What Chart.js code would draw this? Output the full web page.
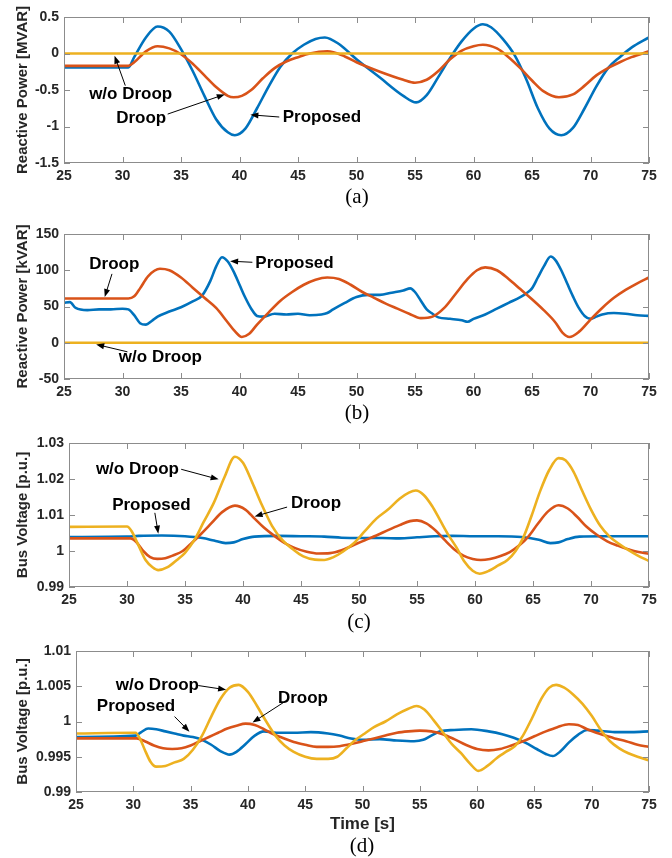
<!DOCTYPE html>
<html>
<head>
<meta charset="utf-8">
<script src="https://cdn.jsdelivr.net/npm/chart.js@4.4.1/dist/chart.umd.min.js"></script>
<style>
  body { margin: 0; background: #fff; width: 672px; height: 858px; position: relative; overflow: hidden; }
  canvas { position: absolute; left: 0; }
  .cap { position: absolute; font-family: "Liberation Serif", "Times New Roman", serif; font-size: 21px; color: #000; transform: translate(-50%, -50%); }
</style>
</head>
<body>
<canvas id="chartA"></canvas>
<canvas id="chartB"></canvas>
<canvas id="chartC"></canvas>
<canvas id="chartD"></canvas>
<div class="cap" style="left:357px; top:196px">(a)</div>
<div class="cap" style="left:357px; top:412px">(b)</div>
<div class="cap" style="left:359px; top:621px">(c)</div>
<div class="cap" style="left:362px; top:845px">(d)</div>

<script>
// ---- ticks ----
const xTicks = [25, 30, 35, 40, 45, 50, 55, 60, 65, 70, 75];
const aTicks = [-1.5, -1, -0.5, 0, 0.5];
const bTicks = [-50, 0, 50, 100, 150];
const cTicks = [0.99, 1, 1.01, 1.02, 1.03];
const dTicks = [0.99, 0.995, 1, 1.005, 1.01];

// ---- (a) reactive power [MVAR] ----
const aPropT = [25, 30.5, 31, 32, 33, 34, 35, 36, 37, 38, 39, 39.6, 40.5, 41.5, 42.5, 43.5, 44.5, 45.5, 46.5, 47.3, 48.5, 50, 52, 54, 55.1, 56, 57, 58, 59, 60, 60.8, 61.5, 62.5, 63.5, 64.5, 65.5, 66.5, 67.5, 68.5, 69.5, 70.5, 71.5, 72.5, 73.5, 75];
const aPropV = [-0.19, -0.19, -0.05, 0.22, 0.37, 0.3, 0.06, -0.24, -0.58, -0.9, -1.08, -1.12, -1.03, -0.75, -0.45, -0.18, 0, 0.12, 0.2, 0.22, 0.13, -0.08, -0.33, -0.58, -0.67, -0.57, -0.32, -0.06, 0.17, 0.34, 0.4, 0.36, 0.2, -0.02, -0.35, -0.75, -1.03, -1.12, -1.02, -0.75, -0.45, -0.2, -0.05, 0.08, 0.22];
const aDroopT = [25, 30.5, 31, 32, 33, 34, 35, 36, 37, 38, 39, 39.5, 40.2, 41, 42, 43, 44, 45, 46, 47.5, 49, 50, 52, 54, 55, 56, 57, 58, 59, 60, 60.8, 62, 63, 64, 65, 66, 67.3, 68.5, 69.5, 70.5, 71.5, 72.5, 73.5, 75];
const aDroopV = [-0.17, -0.17, -0.12, 0.03, 0.1, 0.07, -0.01, -0.14, -0.3, -0.46, -0.58, -0.6, -0.58, -0.5, -0.34, -0.2, -0.11, -0.05, 0, 0.03, -0.04, -0.12, -0.25, -0.36, -0.4, -0.36, -0.24, -0.08, 0.04, 0.1, 0.12, 0.07, -0.05, -0.2, -0.37, -0.52, -0.6, -0.56, -0.44, -0.3, -0.2, -0.12, -0.05, 0.03];
const aNoDroopT = [25, 75];
const aNoDroopV = [0, 0];

// ---- (b) reactive power [kVAR] ----
const bPropT = [25, 25.5, 26, 27, 28, 29, 30, 30.5, 31, 31.5, 32, 32.5, 33, 34, 35, 36, 36.8, 37.5, 38, 38.5, 39, 39.5, 40, 40.5, 41, 41.5, 42, 43, 44, 45, 46, 47, 47.5, 48, 49, 50, 51, 52, 53, 54, 54.6, 55, 55.5, 56, 56.5, 57, 58, 59, 59.5, 60, 61, 62, 63, 64, 64.5, 65, 65.5, 66, 66.6, 67, 67.5, 68, 68.5, 69, 69.5, 70, 70.5, 71, 72, 73, 74, 75];
const bPropV = [55, 56, 48, 45, 46, 46, 47, 46, 38, 27, 25, 30, 36, 43, 49, 57, 65, 85, 105, 118, 112, 98, 80, 62, 47, 37, 36, 40, 39, 40, 38, 39, 41, 46, 55, 63, 66, 66, 69, 72, 75, 70, 58, 46, 40, 35, 33, 31, 29, 33, 39, 47, 55, 63, 68, 75, 90, 105, 119, 114, 100, 82, 64, 48, 37, 33, 36, 39, 41, 40, 38, 37];
const bDroopT = [25, 30.5, 31, 31.5, 32.2, 33.2, 34, 35, 36, 37, 38, 39, 39.6, 40.2, 40.8, 41.5, 42.5, 43.5, 44.5, 45.5, 46.5, 47.5, 48.5, 49.5, 50.5, 51.5, 52.5, 53.5, 54.5, 55.5, 56.5, 57.5, 58.5, 59.5, 60.3, 61, 62, 63, 64, 65, 66, 67, 67.6, 68.2, 69, 70, 71, 72, 73, 74, 75];
const bDroopV = [61, 61, 64, 75, 92, 102, 100, 90, 76, 62, 48, 28, 16, 8, 12, 25, 42, 58, 70, 80, 87, 90, 88, 80, 70, 62, 54, 47, 40, 34, 36, 48, 68, 88, 100, 104, 100, 88, 74, 60, 45, 28, 14, 8, 15, 32, 48, 62, 73, 82, 90];
const bNoDroopT = [25, 75];
const bNoDroopV = [0, 0];

// ---- (c) bus voltage [p.u.] ----
const cPropT = [25, 30, 31, 33, 35, 36.5, 37.5, 38.5, 39.2, 40, 41, 43, 45, 47, 48.5, 50, 52, 53.5, 55, 56.5, 58, 60, 62, 64, 65.5, 66.5, 67.2, 68, 69, 71, 73, 75];
const cPropV = [1.0039, 1.004, 1.0042, 1.0043, 1.0041, 1.0036, 1.0029, 1.0022, 1.0024, 1.0033, 1.004, 1.0042, 1.0041, 1.004, 1.0037, 1.0036, 1.0036, 1.0035, 1.0038, 1.0041, 1.0042, 1.0041, 1.0041, 1.0039, 1.0031, 1.0022, 1.0024, 1.0033, 1.004, 1.0041, 1.0041, 1.0041];
const cDroopT = [25, 30.3, 30.8, 31.4, 32, 32.6, 33.3, 34, 34.8, 35.6, 36.4, 37.3, 38.2, 39.3, 40.2, 41, 41.8, 42.7, 43.6, 44.5, 45.5, 46.5, 47.5, 48.5, 49.5, 50.5, 51.5, 52.5, 53.5, 54.4, 55, 55.8, 56.6, 57.4, 58.2, 59, 59.8, 60.5, 61.3, 62.2, 63, 63.8, 64.6, 65.4, 66.3, 67.2, 68, 68.8, 69.6, 70.5, 71.4, 72.3, 73.2, 74.1, 75];
const cDroopV = [1.0035, 1.0035, 1.0025, 1.0, 0.9983, 0.9978, 0.998, 0.9988, 1.0, 1.0023, 1.0048, 1.0078, 1.0108, 1.0126, 1.0115, 1.009, 1.0065, 1.0042, 1.0022, 1.0008, 0.9998, 0.9993, 0.9994, 1.0002, 1.0016, 1.003, 1.0043, 1.0058, 1.0072, 1.0083, 1.0085, 1.0077, 1.0057, 1.003, 1.0005, 0.9987, 0.9978, 0.9975, 0.9978, 0.9986, 0.9997, 1.0015, 1.004, 1.0075, 1.011, 1.0127, 1.0118, 1.0095, 1.0068, 1.0045, 1.0027, 1.0015, 1.0005, 0.9997, 0.9992];
const cNoDroopT = [25, 30, 30.4, 31, 31.6, 32.2, 32.7, 33.5, 34.3, 35, 35.8, 36.6, 37.5, 38.4, 39.3, 40, 40.8, 41.6, 42.5, 43.4, 44.3, 45.2, 46.2, 47, 47.8, 48.6, 49.5, 50.5, 51.5, 52.5, 53.5, 54.3, 54.9, 55.6, 56.3, 57, 57.7, 58.4, 59.1, 59.8, 60.4, 61.2, 62, 62.8, 63.5, 64.2, 64.9, 65.6, 66.4, 67.2, 67.8, 68.5, 69.2, 70, 70.8, 71.6, 72.4, 73.2, 74, 75];
const cNoDroopV = [1.0067, 1.0068, 1.0055, 1.0015, 0.9975, 0.9955, 0.9947, 0.9955, 0.9975, 0.9995, 1.003, 1.008, 1.0135, 1.0205, 1.0262, 1.0245, 1.019, 1.013, 1.007, 1.003, 1.0005, 0.9985, 0.9976, 0.9975, 0.9983, 0.9998, 1.002, 1.0055, 1.009, 1.0115, 1.0145, 1.0162, 1.0168, 1.0155, 1.0125, 1.0085, 1.0045, 1.001, 0.997, 0.9945, 0.9937, 0.9945, 0.996, 0.9975, 1.0, 1.004, 1.01, 1.0165, 1.0225, 1.0258, 1.0252, 1.022, 1.017, 1.0115, 1.007, 1.004, 1.002, 1.0003, 0.9988, 0.9972];

// ---- (d) bus voltage [p.u.] ----
const dPropT = [25, 30.2, 30.7, 31.3, 32, 32.8, 33.6, 34.4, 35.2, 36, 36.8, 37.6, 38.4, 39, 39.8, 40.6, 41.4, 42.5, 44, 45.5, 47, 48, 49, 50, 51.5, 53, 54.5, 55.3, 56, 56.8, 58, 59.5, 61, 62.2, 63.2, 64.2, 65.2, 66, 66.6, 67.3, 68, 68.8, 69.6, 70.5, 72, 73.5, 75];
const dPropV = [0.9978, 0.998, 0.9985, 0.999, 0.9989, 0.9986, 0.9983, 0.998, 0.9978, 0.9974, 0.9967, 0.9958, 0.9953, 0.9957, 0.9968, 0.998, 0.9986, 0.9984, 0.9984, 0.9985, 0.9983, 0.998, 0.9976, 0.9974, 0.9975, 0.9973, 0.9972, 0.9974, 0.998, 0.9986, 0.9988, 0.9989, 0.9986, 0.9982, 0.9977, 0.997, 0.9961, 0.9954, 0.9951, 0.9958, 0.997, 0.9981, 0.9988, 0.9987, 0.9985, 0.9985, 0.9986];
const dDroopT = [25, 30.3, 31, 31.8, 32.6, 33.4, 34.2, 35, 35.8, 36.6, 37.4, 38.2, 39, 39.8, 40.6, 41.4, 42.2, 43, 44, 45, 46, 47, 48, 49, 50, 51, 52, 53, 54, 55, 56, 57, 58, 59, 60, 61, 62, 63, 64, 65, 66, 67, 68, 68.8, 69.6, 70.4, 71.2, 72, 73, 74, 75];
const dDroopV = [0.9976, 0.9976, 0.9972, 0.9966, 0.9962, 0.9961, 0.9962, 0.9966, 0.9972, 0.9978, 0.9984, 0.999, 0.9994, 0.9997, 0.9995, 0.9989, 0.9982, 0.9977, 0.9971, 0.9967, 0.9964, 0.9964, 0.9965, 0.9968, 0.9972, 0.9976, 0.998, 0.9984, 0.9986, 0.9987, 0.9986, 0.9982, 0.9975, 0.9967, 0.9961, 0.9959, 0.9961, 0.9966, 0.9972, 0.9979, 0.9986, 0.9992, 0.9996, 0.9995, 0.9989, 0.9984, 0.998, 0.9976, 0.9972, 0.9967, 0.9964];
const dNoDroopT = [25, 30.2, 30.6, 31, 31.5, 32, 32.8, 33.6, 34.4, 35.2, 36, 36.8, 37.6, 38.4, 39.2, 40, 40.8, 41.6, 42.4, 43.2, 44, 45, 46, 47, 47.8, 48.6, 49.4, 50.2, 51, 52, 53, 54, 54.7, 55.4, 56.2, 57, 57.8, 58.6, 59.4, 60.1, 60.9, 61.7, 62.5, 63.3, 64, 64.8, 65.6, 66.3, 66.9, 67.6, 68.4, 69.2, 70, 70.8, 71.6, 72.4, 73.2, 74, 75];
const dNoDroopV = [0.9983, 0.9984, 0.9975, 0.996, 0.9943, 0.9936, 0.9937, 0.9942, 0.9947, 0.996, 0.998, 1.0007, 1.0032, 1.0048, 1.0052, 1.0042, 1.0022, 1.0, 0.998, 0.9966, 0.9957, 0.995, 0.9947, 0.9947, 0.995, 0.9962, 0.9974, 0.9983, 0.9992, 1.0, 1.001, 1.0018, 1.0022, 1.0017, 1.0002, 0.9985, 0.9968, 0.9955, 0.994, 0.993, 0.9937, 0.9948, 0.9957, 0.9965, 0.998, 1.0005, 1.0032, 1.0048, 1.0052, 1.0048, 1.0038, 1.0025, 1.0008, 0.9988, 0.9972, 0.9962, 0.9955, 0.995, 0.9945];

const BLUE = '#0072BD';
const ORANGE = '#D95319';
const YELLOW = '#EDB120';
const SANS = '"Liberation Sans", Arial, sans-serif';

// label text + arrow, all in data units
const aNotes = [
    { text: 'w/o Droop', x: 30.7, y: -0.56, from: [30.24, -0.44], to: [29.32, -0.03] },
    { text: 'Droop', x: 31.6, y: -0.89, from: [33.86, -0.83], to: [38.74, -0.56] },
    { text: 'Proposed', x: 47.05, y: -0.88, from: [43.4, -0.87], to: [40.93, -0.84] }
];
const bNotes = [
    { text: 'Droop', x: 29.3, y: 108, from: [29.1, 95], to: [28.48, 63] },
    { text: 'Proposed', x: 44.7, y: 110, from: [41.1, 111], to: [39.2, 112.5] },
    { text: 'w/o Droop', x: 33.24, y: -19.4, from: [30.42, -12.5], to: [27.75, -2.3] }
];
const cNotes = [
    { text: 'w/o Droop', x: 30.9, y: 1.0227, from: [34.67, 1.0227], to: [37.9, 1.0199] },
    { text: 'Proposed', x: 32.1, y: 1.0126, from: [32.4, 1.0106], to: [32.7, 1.0048] },
    { text: 'Droop', x: 46.3, y: 1.0132, from: [43.8, 1.0122], to: [41.0, 1.0096] }
];
const dNotes = [
    { text: 'w/o Droop', x: 32.1, y: 1.0052, from: [35.67, 1.0051], to: [38.1, 1.0045] },
    { text: 'Proposed', x: 30.24, y: 1.0022, from: [33.6, 1.0007], to: [34.9, 0.99856] },
    { text: 'Droop', x: 44.8, y: 1.0033, from: [43.3, 1.0029], to: [40.4, 0.99986] }
];

// box + inward ticks on all four sides, then the arrow labels
const framePlugin = {
    id: 'frame',
    afterDatasetsDraw(chart, args, opts) {
        const { ctx, chartArea: a, scales: { x, y } } = chart;
        ctx.save();
        ctx.strokeStyle = '#8c8c8c';
        ctx.lineWidth = 1;
        ctx.strokeRect(a.left + 0.5, a.top + 0.5, a.right - a.left - 1, a.bottom - a.top - 1);
        ctx.beginPath();
        x.ticks.forEach(t => {
            const px = Math.round(x.getPixelForValue(t.value)) + 0.5;
            ctx.moveTo(px, a.bottom); ctx.lineTo(px, a.bottom - 6);
            ctx.moveTo(px, a.top); ctx.lineTo(px, a.top + 6);
        });
        y.ticks.forEach(t => {
            const py = Math.round(y.getPixelForValue(t.value)) + 0.5;
            ctx.moveTo(a.left, py); ctx.lineTo(a.left + 6, py);
            ctx.moveTo(a.right, py); ctx.lineTo(a.right - 6, py);
        });
        ctx.stroke();

        ctx.fillStyle = '#000';
        ctx.strokeStyle = '#000';
        ctx.font = 'bold 17px ' + SANS;
        ctx.textAlign = 'center';
        ctx.textBaseline = 'middle';
        (opts.notes || []).forEach(n => {
            ctx.fillText(n.text, x.getPixelForValue(n.x), y.getPixelForValue(n.y));
            const x0 = x.getPixelForValue(n.from[0]), y0 = y.getPixelForValue(n.from[1]);
            const x1 = x.getPixelForValue(n.to[0]), y1 = y.getPixelForValue(n.to[1]);
            const ang = Math.atan2(y1 - y0, x1 - x0);
            ctx.beginPath();
            ctx.moveTo(x0, y0);
            ctx.lineTo(x1 - 6 * Math.cos(ang), y1 - 6 * Math.sin(ang));
            ctx.stroke();
            ctx.beginPath();
            ctx.moveTo(x1, y1);
            ctx.lineTo(x1 - 8 * Math.cos(ang) + 3 * Math.sin(ang), y1 - 8 * Math.sin(ang) - 3 * Math.cos(ang));
            ctx.lineTo(x1 - 8 * Math.cos(ang) - 3 * Math.sin(ang), y1 - 8 * Math.sin(ang) + 3 * Math.cos(ang));
            ctx.closePath();
            ctx.fill();
        });
        ctx.restore();
    }
};

function series(label, t, v, color, order) {
    return {
        label,
        data: t.map((tt, i) => ({ x: tt, y: v[i] })),
        borderColor: color,
        borderWidth: 2.6,
        pointRadius: 0,
        cubicInterpolationMode: 'monotone',
        fill: false,
        order
    };
}

function makeChart(p) {
    const canvasTop = p.top - 17;
    const canvasBottom = p.bottom + (p.xTitle ? 46 : 27);
    const canvas = document.getElementById(p.id);
    canvas.width = 672;
    canvas.height = canvasBottom - canvasTop;
    canvas.style.top = canvasTop + 'px';
    const xAxisH = canvasBottom - p.bottom;
    const fmt = v => String(+(+v).toFixed(4));

    new Chart(canvas, {
        type: 'line',
        data: { datasets: p.datasets },
        options: {
            responsive: false,
            animation: false,
            devicePixelRatio: 1,
            layout: { padding: { left: 0, right: 672 - 649, top: p.top - canvasTop, bottom: 0 } },
            plugins: {
                legend: { display: false },
                tooltip: { enabled: false },
                frame: { notes: p.notes }
            },
            scales: {
                x: {
                    type: 'linear',
                    min: 25,
                    max: 75,
                    afterBuildTicks: s => { s.ticks = xTicks.map(v => ({ value: v })); },
                    afterFit: s => { s.height = xAxisH; },
                    grid: { display: false, drawTicks: false },
                    border: { display: false },
                    ticks: { font: { family: SANS, size: 14, weight: 'bold' }, color: '#262626', padding: 5, maxRotation: 0, autoSkip: false, callback: fmt },
                    title: p.xTitle
                        ? { display: true, text: p.xTitle, font: { family: SANS, size: 17, weight: 'bold' }, color: '#262626', padding: { top: 0, bottom: 3 } }
                        : { display: false }
                },
                y: {
                    type: 'linear',
                    min: p.ticks[0],
                    max: p.ticks[p.ticks.length - 1],
                    afterBuildTicks: s => { s.ticks = p.ticks.map(v => ({ value: v })); },
                    afterFit: s => { s.width = p.left; },
                    grid: { display: false, drawTicks: false },
                    border: { display: false },
                    ticks: { font: { family: SANS, size: 14, weight: 'bold' }, color: '#262626', padding: 5, autoSkip: false, callback: fmt },
                    title: { display: true, text: p.yTitle, font: { family: SANS, size: 15, weight: 'bold' }, color: '#262626', padding: { top: 14, bottom: 0 } }
                }
            }
        },
        plugins: [framePlugin]
    });
}

makeChart({
    id: 'chartA', top: 17, bottom: 163, left: 64, ticks: aTicks, yTitle: 'Reactive Power [MVAR]', notes: aNotes,
    datasets: [
        series('w/o Droop', aNoDroopT, aNoDroopV, YELLOW, 0),
        series('Droop', aDroopT, aDroopV, ORANGE, 1),
        series('Proposed', aPropT, aPropV, BLUE, 2)
    ]
});
makeChart({
    id: 'chartB', top: 234, bottom: 379, left: 64, ticks: bTicks, yTitle: 'Reactive Power [kVAR]', notes: bNotes,
    datasets: [
        series('w/o Droop', bNoDroopT, bNoDroopV, YELLOW, 0),
        series('Droop', bDroopT, bDroopV, ORANGE, 1),
        series('Proposed', bPropT, bPropV, BLUE, 2)
    ]
});
makeChart({
    id: 'chartC', top: 443, bottom: 587, left: 69, ticks: cTicks, yTitle: 'Bus Voltage [p.u.]', notes: cNotes,
    datasets: [
        series('w/o Droop', cNoDroopT, cNoDroopV, YELLOW, 0),
        series('Droop', cDroopT, cDroopV, ORANGE, 1),
        series('Proposed', cPropT, cPropV, BLUE, 2)
    ]
});
makeChart({
    id: 'chartD', top: 651, bottom: 792, left: 76, ticks: dTicks, yTitle: 'Bus Voltage [p.u.]', xTitle: 'Time [s]', notes: dNotes,
    datasets: [
        series('w/o Droop', dNoDroopT, dNoDroopV, YELLOW, 0),
        series('Droop', dDroopT, dDroopV, ORANGE, 1),
        series('Proposed', dPropT, dPropV, BLUE, 2)
    ]
});
</script>
</body>
</html>
